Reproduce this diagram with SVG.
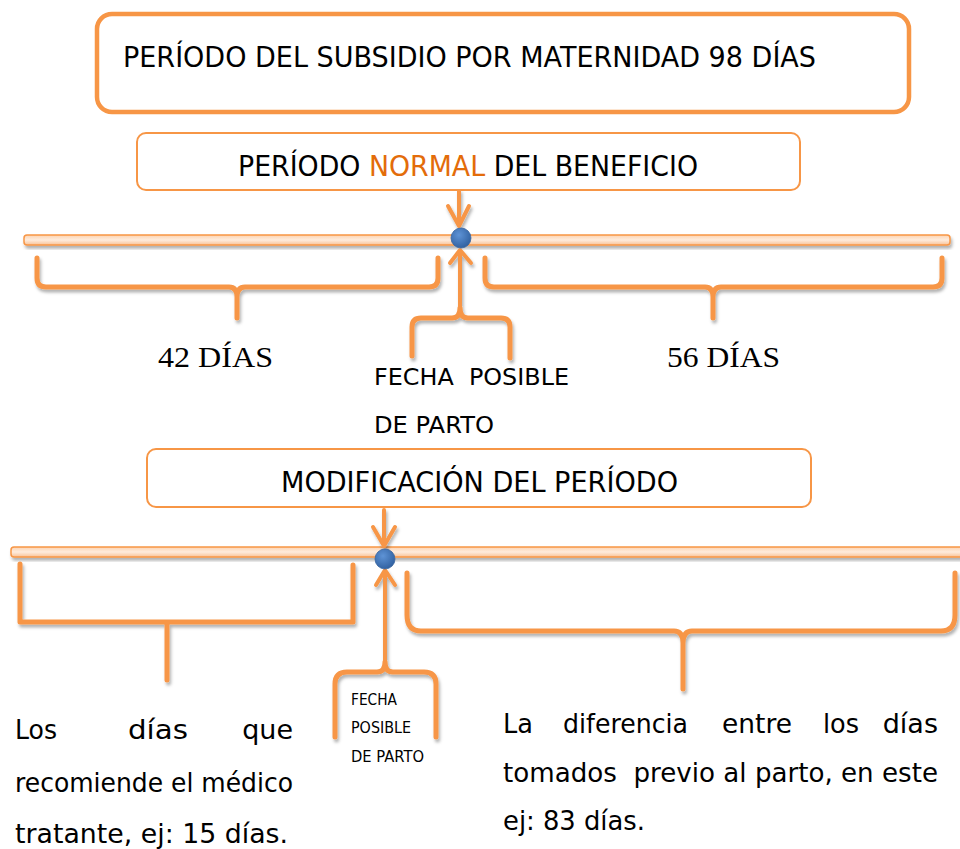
<svg xmlns="http://www.w3.org/2000/svg" width="960" height="849" viewBox="0 0 960 849">
<defs>
<style>
.box{fill:#fff;stroke:#F79646}
.t{font-family:"DejaVu Sans","Liberation Sans",sans-serif;fill:#000}
.serif{font-family:"Liberation Serif","Times New Roman",serif;fill:#000}
.br{fill:none;stroke:#F79646;stroke-width:5;stroke-linecap:round;stroke-linejoin:round}
.ar{fill:none;stroke:#F79646;stroke-width:4;stroke-linecap:round;stroke-linejoin:round}
.bar{fill:url(#barg);stroke:#F79646;stroke-width:1.5}
.dot{fill:url(#dotg);stroke:#3A66A0;stroke-width:0.8}
</style>
<linearGradient id="barg" x1="0" y1="0" x2="0" y2="1">
<stop offset="0" stop-color="#FCD3B1"/>
<stop offset="0.5" stop-color="#FEECDD"/>
<stop offset="1" stop-color="#F9C296"/>
</linearGradient>
<radialGradient id="dotg" cx="0.4" cy="0.35" r="0.7">
<stop offset="0" stop-color="#5E93D6"/>
<stop offset="1" stop-color="#2F5F9E"/>
</radialGradient>
<filter id="sh" x="-5%" y="-50%" width="110%" height="200%">
<feDropShadow dx="1.5" dy="3" stdDeviation="1.8" flood-color="#000" flood-opacity="0.3"/>
</filter>
</defs>

<g id="title">
<rect class="box" x="97" y="14" width="812" height="98" rx="15" stroke-width="4.5"/>
<text class="t" x="123" y="67" font-size="28" textLength="693" lengthAdjust="spacingAndGlyphs">PERÍODO DEL SUBSIDIO POR MATERNIDAD 98 DÍAS</text>
</g>

<g id="normal">
<rect class="box" x="137" y="133" width="663" height="57" rx="9" stroke-width="2"/>
<text class="t" x="238" y="176" font-size="28" textLength="460" lengthAdjust="spacingAndGlyphs">PERÍODO <tspan fill="#E36C0A">NORMAL</tspan> DEL BENEFICIO</text>
</g>

<g id="modificacion">
<rect class="box" x="147" y="449" width="664" height="58" rx="9" stroke-width="2"/>
<text class="t" x="281" y="492" font-size="28" textLength="397" lengthAdjust="spacingAndGlyphs">MODIFICACIÓN DEL PERÍODO</text>
</g>

<g id="timeline1">
<rect class="bar" x="24" y="235" width="926" height="10" rx="3" filter="url(#sh)"/>
</g>

<g id="timeline2">
<rect class="bar" x="11" y="547" width="960" height="10" rx="3" filter="url(#sh)"/>
</g>

<g id="connectors">
<g filter="url(#sh)">
<path class="br" d="M37 258 V278 Q37 287 46 287 H229 Q237 287 237 297 V318 M438 258 V278 Q438 287 429 287 H245 Q237 287 237 297"/>
<path class="br" d="M485 258 V278 Q485 287 494 287 H705 Q713 287 713 297 V318 M942 258 V278 Q942 287 933 287 H721 Q713 287 713 297"/>
<path class="br" d="M412 356 V327 Q412 318 421 318 H452 Q460 318 460 308 M510 358 V327 Q510 318 501 318 H468 Q460 318 460 308"/>
<path class="br" stroke-linejoin="miter" stroke-linecap="butt" d="M20 564 V622 H353 V565 M167 622 V680"/>
<path class="br" d="M407 573 V615 Q407 631 421 631 H674 Q683 631 683 643 V689 M955 573 V615 Q955 631 941 631 H692 Q683 631 683 643"/>
<path class="br" d="M335 737 V684 Q335 672 347 672 H377 Q385 672 385 662 M436 737 V684 Q436 672 424 672 H393 Q385 672 385 662"/>
<path class="ar" d="M459 191 V225 M448 206 L459 226 L469 206"/>
<path class="ar" d="M460 312 V252 M450 263 L460 250 L471 263"/>
<path class="ar" d="M384 510 V545 M373 527 L384 546 L395 527"/>
<path class="ar" d="M385 664 V572 M376 585 L385 570 L395 585"/>
</g>
</g>

<g id="dot1"><circle class="dot" cx="461" cy="238" r="10"/></g>
<g id="dot2"><circle class="dot" cx="385" cy="559" r="10"/></g>

<g id="labels1">
<text class="serif" x="158" y="367" font-size="30" textLength="115" lengthAdjust="spacingAndGlyphs">42 DÍAS</text>
<text class="serif" x="667" y="367" font-size="30" textLength="113" lengthAdjust="spacingAndGlyphs">56 DÍAS</text>
<text class="t" x="374" y="385" font-size="23" textLength="195" lengthAdjust="spacingAndGlyphs" xml:space="preserve">FECHA  POSIBLE</text>
<text class="t" x="374" y="433" font-size="23" textLength="120" lengthAdjust="spacingAndGlyphs">DE PARTO</text>
</g>

<g id="labels2">
<text class="t" x="351" y="705" font-size="16" textLength="46" lengthAdjust="spacingAndGlyphs">FECHA</text>
<text class="t" x="351" y="733" font-size="16" textLength="60" lengthAdjust="spacingAndGlyphs">POSIBLE</text>
<text class="t" x="351" y="762" font-size="16" textLength="73" lengthAdjust="spacingAndGlyphs">DE PARTO</text>
</g>

<g id="left-text">
<text x="15" y="739" class="t" font-size="27" textLength="42" lengthAdjust="spacingAndGlyphs">Los</text>
<text x="128" y="739" class="t" font-size="27" textLength="60" lengthAdjust="spacingAndGlyphs">días</text>
<text x="293" y="739" class="t" font-size="27" text-anchor="end">que</text>
<text x="15" y="792" class="t" font-size="27" textLength="278" lengthAdjust="spacingAndGlyphs">recomiende el médico</text>
<text x="15" y="843" class="t" font-size="27" textLength="273" lengthAdjust="spacingAndGlyphs">tratante, ej: 15 días.</text>
</g>

<g id="right-text">
<text x="503" y="733" class="t" font-size="27" textLength="30" lengthAdjust="spacingAndGlyphs">La</text>
<text x="563" y="733" class="t" font-size="27" textLength="125" lengthAdjust="spacingAndGlyphs">diferencia</text>
<text x="722" y="733" class="t" font-size="27" textLength="70" lengthAdjust="spacingAndGlyphs">entre</text>
<text x="823" y="733" class="t" font-size="27" textLength="36" lengthAdjust="spacingAndGlyphs">los</text>
<text x="938" y="733" class="t" font-size="27" text-anchor="end">días</text>
<text x="503" y="782" class="t" font-size="27" textLength="435" lengthAdjust="spacingAndGlyphs" xml:space="preserve">tomados  previo al parto, en este</text>
<text x="503" y="830" class="t" font-size="27" textLength="142" lengthAdjust="spacingAndGlyphs">ej: 83 días.</text>
</g>
</svg>
